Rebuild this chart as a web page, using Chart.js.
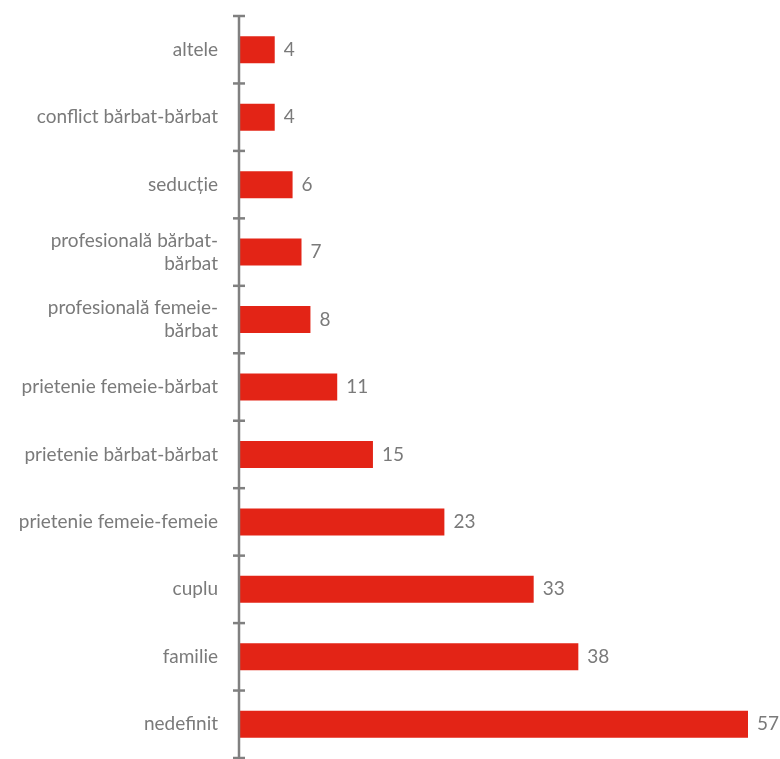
<!DOCTYPE html>
<html>
<head>
<meta charset="utf-8">
<script src="https://cdn.jsdelivr.net/npm/chart.js@4/dist/chart.umd.min.js"></script>
<style>
body{margin:0;background:#fff}
#wrap{width:780px;height:759px}
</style>
</head>
<body>
<div id="wrap"><canvas id="chart"></canvas></div>
<script>
let categories=[
"altele",
"conflict bărbat-bărbat",
"seducție",
["profesională bărbat-","bărbat"],
["profesională femeie-","bărbat"],
"prietenie femeie-bărbat",
"prietenie bărbat-bărbat",
"prietenie femeie-femeie",
"cuplu",
"familie",
"nedefinit"
]

let values=[4,4,6,7,8,11,15,23,33,38,57]

let gray="#7a7a7a"
let red="#e32416"

// value text at the end of each bar
let valueLabels={
id:"valueLabels",
afterDatasetsDraw(chart){
let ctx=chart.ctx
let meta=chart.getDatasetMeta(0)
ctx.save()
ctx.fillStyle=gray
ctx.font="19px Lato"
ctx.textBaseline="middle"
meta.data.forEach((bar,i)=>{
ctx.fillText(values[i],bar.x+9,bar.y)
})
ctx.restore()
}
}

// cross ticks between categories on the axis line
let axisTicks={
id:"axisTicks",
afterDraw(chart){
let ctx=chart.ctx
let y=chart.scales.y
let x=y.right
ctx.save()
ctx.strokeStyle="#808080"
ctx.lineWidth=2.5
ctx.beginPath()
ctx.moveTo(x,y.getPixelForValue(-0.5))
ctx.lineTo(x,y.getPixelForValue(values.length-0.5))
ctx.stroke()
for(let i=0;i<=values.length;i++){
let py=y.getPixelForValue(i-0.5)
ctx.beginPath()
ctx.moveTo(x-6,py)
ctx.lineTo(x+6,py)
ctx.stroke()
}
ctx.restore()
}
}

new Chart(document.getElementById("chart"),{
type:"bar",
data:{
labels:categories,
datasets:[{
data:values,
backgroundColor:red,
categoryPercentage:1,
barPercentage:0.4
}]
},
options:{
indexAxis:"y",
responsive:true,
maintainAspectRatio:false,
animation:false,
layout:{padding:{top:16,right:32,bottom:1,left:0}},
plugins:{legend:{display:false},tooltip:{enabled:false}},
scales:{
x:{
display:false,
min:0,
max:57
},
y:{
grid:{display:false,tickLength:0},
border:{display:false},
ticks:{
color:gray,
font:{family:"Lato",size:19},
padding:21,
autoSkip:false
},
afterFit(scale){
scale.width=239
scale.paddingTop=0
scale.paddingBottom=0
}
}
}
},
plugins:[valueLabels,axisTicks]
})
</script>
</body>
</html>
